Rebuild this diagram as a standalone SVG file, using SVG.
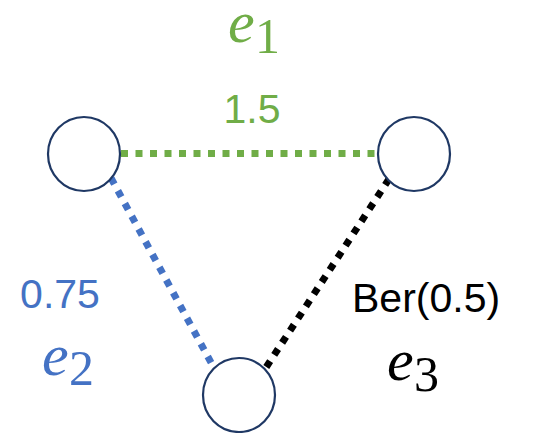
<svg xmlns="http://www.w3.org/2000/svg" width="549" height="433" viewBox="0 0 549 433">
<style>
.node{fill:#fff;stroke:#1F3864;stroke-width:2.2}
.edge{fill:none;stroke-width:7;stroke-dasharray:7 7.5}
.lbl{font-family:"Liberation Sans",Arial,sans-serif;font-size:41px}
.ev{font-family:"Liberation Serif","DejaVu Serif",serif;font-style:italic;font-size:60px}
.sub{font-family:"Liberation Serif","DejaVu Serif",serif;font-size:50px}
</style>
<rect width="549" height="433" fill="#fff"/>
<g id="edges">
<line class="edge" x1="121" y1="153.5" x2="378" y2="153.5" stroke="#70AD47"/>
<line class="edge" x1="111" y1="178" x2="214" y2="368" stroke="#4472C4"/>
<line class="edge" x1="389" y1="179" x2="265" y2="369" stroke="#000"/>
</g>
<g id="node1"><ellipse class="node" cx="84" cy="154" rx="36" ry="37"/></g>
<g id="node2"><ellipse class="node" cx="414" cy="154" rx="36" ry="37"/></g>
<g id="node3"><ellipse class="node" cx="239" cy="395" rx="36" ry="37"/></g>
<g id="label-e1" fill="#70AD47">
<text class="ev" x="228" y="42">e</text><text class="sub" x="255" y="53">1</text>
<text class="lbl" x="252" y="123" text-anchor="middle">1.5</text>
</g>
<g id="label-e2" fill="#4472C4">
<text class="lbl" x="60" y="308" text-anchor="middle">0.75</text>
<text class="ev" x="42" y="375">e</text><text class="sub" x="69" y="385">2</text>
</g>
<g id="label-e3" fill="#000">
<text class="lbl" x="352" y="312">Ber(0.5)</text>
<text class="ev" x="387" y="380">e</text><text class="sub" x="414" y="391">3</text>
</g>
</svg>
